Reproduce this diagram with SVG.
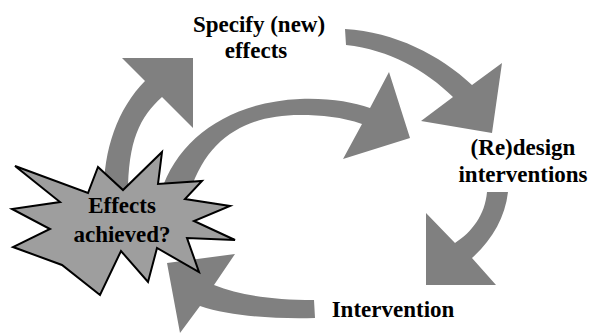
<svg xmlns="http://www.w3.org/2000/svg" width="593" height="333" viewBox="0 0 593 333">
  <style>
    .lbl { font-weight: 700; font-size: 23px; fill: #000; text-anchor: middle; }
    .arrow { fill: #808080; stroke: none; }
    .star { fill: #9e9e9e; stroke: #000; stroke-width: 2; stroke-linejoin: miter; }
  </style>
  <rect width="593" height="333" fill="#fff"/>
  <g id="connectors">
    <path class="arrow" d="M104,195 C103,150 118,108 145,81 L122,58 L193,58 L193,128 L162,97 C140,117 128,140 128,195 Z"/>
    <path class="arrow" d="M161,192 C178,138 230,102 300,99 C330,98 352,102 370,108 L389,72 L410,138 L343,159 L362,124 C342,117 322,115 300,115 C250,115 208,135 190,192 Z"/>
    <path class="arrow" d="M345,29 C395,32 440,55 472,85 L502,63 L492,133 L421,121 L453,97 C425,70 390,50 346,45 Z"/>
    <path class="arrow" d="M487,192 C485,215 472,232 455,243 L426,213 L426,285 L496,285 L472,258 C492,240 505,218 508,192 Z"/>
    <path class="arrow" d="M314,300 C270,300 240,295 214,285 L235,254 L167,263 L180,333 L200,306 C230,316 270,319 315,318 Z"/>
  </g>
  <g id="specify">
    <text class="lbl" x="259" y="32" font-family="Liberation Serif, serif">Specify (new)</text>
    <text class="lbl" x="256" y="58" font-family="Liberation Serif, serif">effects</text>
  </g>
  <g id="redesign">
    <text class="lbl" x="523" y="155" font-family="Liberation Serif, serif">(Re)design</text>
    <text class="lbl" x="523" y="182" font-family="Liberation Serif, serif">interventions</text>
  </g>
  <g id="intervention">
    <text class="lbl" x="393" y="317" font-family="Liberation Serif, serif">Intervention</text>
  </g>
  <g id="effects-achieved">
    <polygon class="star" points="15,166 88,193 98,167 123,190 162,152 158,184 202,181 185,199 230,206 194,221 235,240 187,238 199,272 157,248 148,282 121,251 100,295 62,265 13,247 50,229 12,209 60,202"/>
    <text class="lbl" x="122" y="213" font-family="Liberation Serif, serif">Effects</text>
    <text class="lbl" x="122" y="242" font-family="Liberation Serif, serif">achieved?</text>
  </g>
</svg>
